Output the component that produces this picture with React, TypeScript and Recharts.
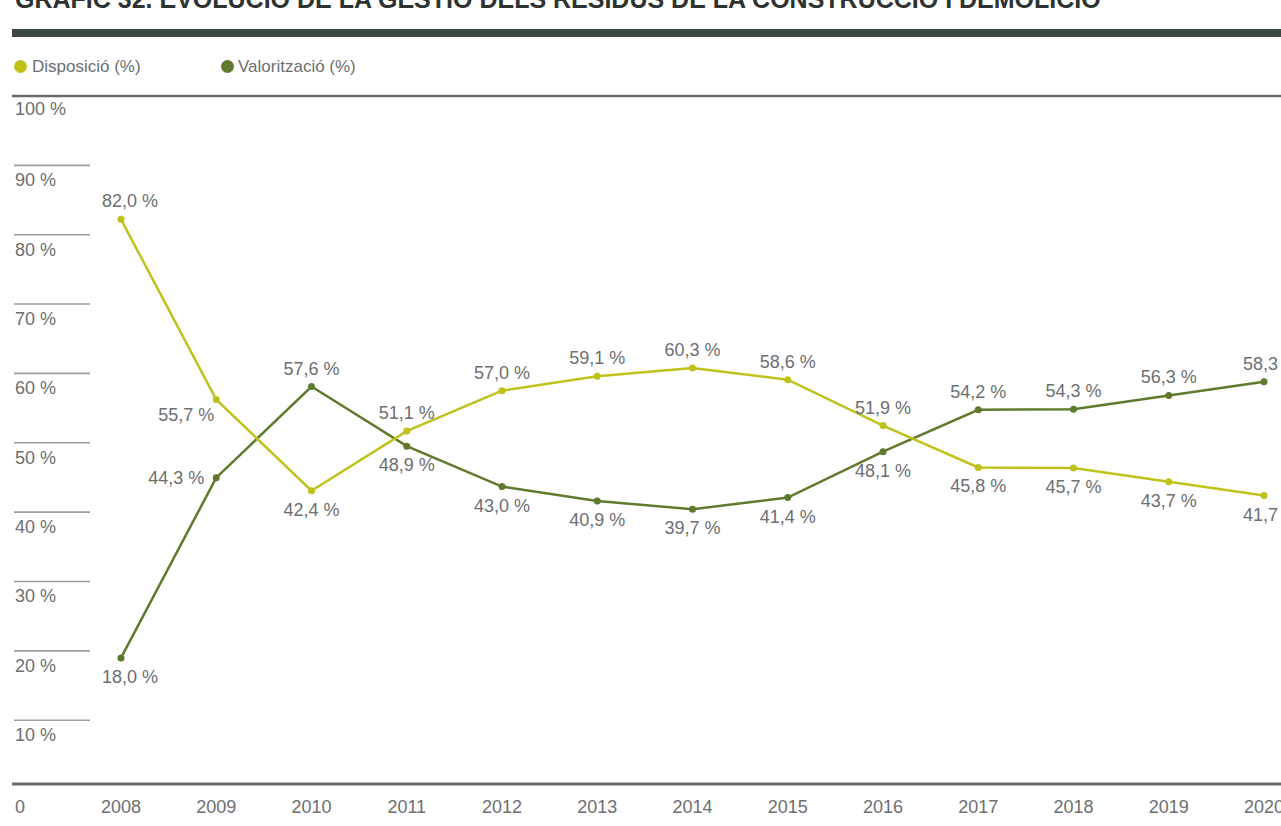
import { LineChart, Line, XAxis, YAxis, ReferenceLine, LabelList } from "recharts";

const years = [2008, 2009, 2010, 2011, 2012, 2013, 2014, 2015, 2016, 2017, 2018, 2019, 2020];
const disposicio = [82.0, 55.7, 42.4, 51.1, 57.0, 59.1, 60.3, 58.6, 51.9, 45.8, 45.7, 43.7, 41.7];
const valoritzacio = [18.0, 44.3, 57.6, 48.9, 43.0, 40.9, 39.7, 41.4, 48.1, 54.2, 54.3, 56.3, 58.3];
const yTicks = [10, 20, 30, 40, 50, 60, 70, 80, 90, 100];
const seriesNames = ["Disposició (%)", "Valorització (%)"];
const sideLabelYears = [2009];

const title = "GRÀFIC 32. EVOLUCIÓ DE LA GESTIÓ DELS RESIDUS DE LA CONSTRUCCIÓ I DEMOLICIÓ";

const FONT = "'Liberation Sans', Arial, Helvetica, sans-serif";
const TEXT = "#6d6f71";
const YELLOW = "#bec21b";
const OLIVE = "#5f7a2d";
const RULE = "#686b6a";

const data = years.map((year, i) => ({
  year,
  disp: disposicio[i],
  val: valoritzacio[i],
}));

const fmt = (v: number) => v.toFixed(1).replace(".", ",") + " %";

// data label: above when this series is the higher one, below otherwise
function makeLabel(own: number[], other: number[]) {
  return (props: any) => {
    const { x, y, index } = props;
    const mine = own[index];
    const higher = mine > other[index];
    let tx = index === 0 ? x + 9 : index === own.length - 1 ? x + 7 : x;
    let ty = higher ? y - 12 : y + 25;
    let anchor: "middle" | "end" = "middle";
    if (sideLabelYears.includes(years[index])) {
      anchor = "end";
      tx = higher ? x - 2 : x - 12;
      ty = higher ? y + 21 : y + 6;
    }
    return (
      <text x={tx} y={ty} textAnchor={anchor} fill={TEXT} fontSize={18} fontFamily={FONT}>
        {fmt(mine)}
      </text>
    );
  };
}

const YTick = (props: any) => {
  const { y, payload } = props;
  const v = payload.value;
  return (
    <g>
      {v !== 100 && <line x1={14} x2={90} y1={y} y2={y} stroke="#9d9e9e" strokeWidth={1.6} />}
      <text x={15} y={y + (v === 100 ? 19 : 21)} fill={TEXT} fontSize={18} fontFamily={FONT}>
        {v + " %"}
      </text>
    </g>
  );
};

const XTick = (props: any) => {
  const { x, y, payload } = props;
  return (
    <text x={x} y={y + 29} textAnchor="middle" fill={TEXT} fontSize={18} fontFamily={FONT}>
      {payload.value}
    </text>
  );
};

const ZeroLabel = (props: any) => {
  const vb = props.viewBox || { x: 12, y: 784 };
  return (
    <text x={vb.x + 3} y={vb.y + 29} fill={TEXT} fontSize={18} fontFamily={FONT}>
      0
    </text>
  );
};

export default function App() {
  return (
    <div
      style={{
        position: "absolute",
        left: 0,
        top: 0,
        width: 1281,
        height: 826,
        overflow: "hidden",
        background: "#fff",
        fontFamily: FONT,
      }}
    >
      <div
        style={{
          position: "absolute",
          left: 15,
          top: -13,
          fontSize: 25,
          lineHeight: "25px",
          fontWeight: 700,
          color: "#2e3331",
          whiteSpace: "nowrap",
        }}
      >
        {title}
      </div>
      <div style={{ position: "absolute", left: 12, right: 0, top: 29, height: 8, background: "#3f4542" }} />

      {/* legend */}
      {seriesNames.map((name, i) => (
        <div
          key={name}
          style={{
            position: "absolute",
            left: i === 0 ? 14 : 221,
            top: 58,
            display: "flex",
            alignItems: "center",
            fontSize: 17,
            lineHeight: "17px",
            color: TEXT,
          }}
        >
          <span
            style={{
              width: 13,
              height: 13,
              borderRadius: "50%",
              background: i === 0 ? YELLOW : OLIVE,
              marginRight: i === 0 ? 5 : 4,
              display: "inline-block",
            }}
          />
          <span>{name}</span>
        </div>
      ))}

      <div style={{ position: "absolute", left: 0, top: 0 }}>
        <LineChart width={1340} height={826} data={data} margin={{ top: 96, right: 0, bottom: 0, left: 12 }}>
          <XAxis
            dataKey="year"
            type="number"
            domain={[2008, 2020]}
            ticks={years}
            interval={0}
            padding={{ left: 109, right: 76 }}
            axisLine={{ stroke: RULE, strokeWidth: 3 }}
            tickLine={false}
            tickSize={0}
            tickMargin={0}
            height={42}
            tick={XTick}
            label={<ZeroLabel />}
          />
          {/* grid/tick scale: the printed ticks sit slightly below the data scale */}
          <YAxis
            yAxisId="grid"
            type="number"
            domain={[0.8, 100]}
            allowDataOverflow
            ticks={yTicks}
            interval={0}
            mirror
            width={60}
            axisLine={false}
            tickLine={false}
            tick={YTick}
          />
          <YAxis yAxisId="data" type="number" domain={[-0.4, 100]} allowDataOverflow hide />
          <ReferenceLine yAxisId="grid" y={100} stroke={RULE} strokeWidth={2.5} />
          <Line
            yAxisId="data"
            dataKey="val"
            stroke={OLIVE}
            strokeWidth={2.5}
            dot={{ r: 3.5, fill: OLIVE, stroke: OLIVE, strokeWidth: 0 }}
            isAnimationActive={false}
          >
            <LabelList dataKey="val" content={makeLabel(valoritzacio, disposicio)} />
          </Line>
          <Line
            yAxisId="data"
            dataKey="disp"
            stroke={YELLOW}
            strokeWidth={2.5}
            dot={{ r: 3.5, fill: YELLOW, stroke: YELLOW, strokeWidth: 0 }}
            isAnimationActive={false}
          >
            <LabelList dataKey="disp" content={makeLabel(disposicio, valoritzacio)} />
          </Line>
        </LineChart>
      </div>
    </div>
  );
}
